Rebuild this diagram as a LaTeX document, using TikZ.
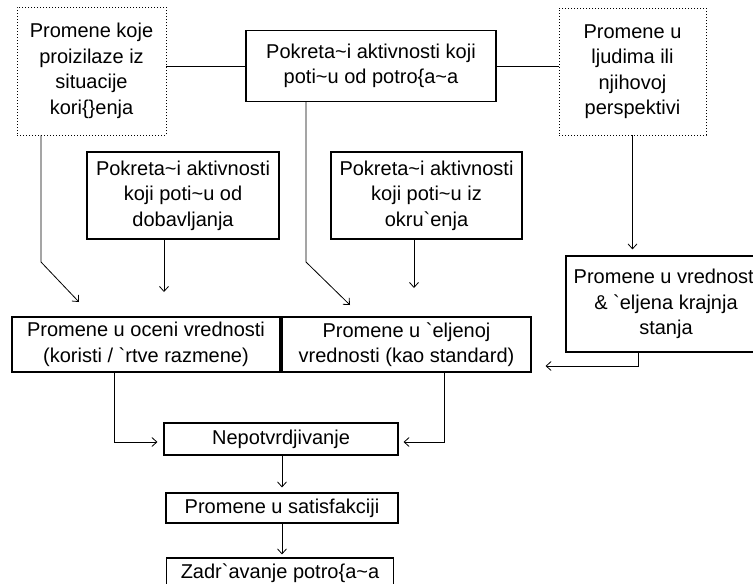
\documentclass[tikz,border=0pt]{standalone}
\usepackage{fontspec}
\setmainfont{Liberation Sans}
\usetikzlibrary{arrows.meta}
\newcommand{\coude}[3]{\draw[fleche] (#1) -- (#2) -- (#3)}
\newcommand{\ti}[0]{\textasciitilde}
\newcommand{\gr}[0]{\textasciigrave}

\begin{document}
\begin{tikzpicture}[x=1pt, y=-1pt,
	fin/.style = {line width=0.8pt},
	boite/.style = {draw, line width=1.1pt, align=center, inner sep=0pt,
		font=\fontsize{20}{25.5}\selectfont},
	pointille/.style = {boite, line width=0.9pt, dash pattern=on 0.9pt off 2.1pt},
	fleche/.style = {draw, fin, -{Straight Barb[length=5pt,width=9pt]}}]
	\useasboundingbox (0,0) rectangle (753,584);
	\clip (0,0) rectangle (753,584);
%Top row
	\node[pointille, minimum width=149pt, minimum height=128pt] (koris) at (91.5,71)
		{Promene koje\\proizilaze iz\\situacije\\kori\{\}enja};
	\node[boite, minimum width=250pt, minimum height=71pt] (potr) at (371,66)
		{Pokreta\ti i aktivnosti koji\\poti\ti u od potro\{a\ti a};
	\node[pointille, minimum width=147pt, minimum height=127pt] (ljudi) at (632.5,71.5)
		{Promene u\\ljudima ili\\njihovoj\\perspektivi};
%Second row
	\node[boite, minimum width=192pt, minimum height=87pt] (dob) at (183,195.5)
		{Pokreta\ti i aktivnosti\\koji poti\ti u od\\dobavljanja};
	\node[boite, minimum width=191pt, minimum height=87pt] (okr) at (426.5,195.5)
		{Pokreta\ti i aktivnosti\\koji poti\ti u iz\\okru\gr enja};
	\node[boite, minimum width=200pt, minimum height=96pt] (vredn) at (666,304)
		{Promene u vrednosti\\\& \gr eljena krajnja\\stanja};
%Third row
	\node[boite, minimum width=268pt, minimum height=55pt] (ocena) at (146,344.5)
		{Promene u oceni vrednosti\\(koristi / \gr rtve razmene)};
	\node[boite, minimum width=249pt, minimum height=55pt] (zelj) at (406.5,344.5)
		{Promene u \gr eljenoj\\vrednosti (kao standard)};
%Bottom column
	\node[boite, minimum width=234pt, minimum height=32pt] (nepot) at (281,439)
		{Nepotvrdjivanje};
	\node[boite, minimum width=232pt, minimum height=30pt] (satisf) at (282,508)
		{Promene u satisfakciji};
	\node[boite, minimum width=227pt, minimum height=30pt] (zadr) at (280,573)
		{Zadr\gr avanje potro\{a\ti a};
%Links between the top boxes
	\draw[fin] (potr.west) -- (potr.west -| koris.east);
	\draw[fin] (potr.east) -- (potr.east -| ljudi.west);
%Bends
	\coordinate (k1) at (41,262);
	\coordinate (k2) at (79,302);
	\coordinate (p1) at (306,262);
	\coordinate (p2) at (350,305);
	\coordinate (d1) at (164,292);
	\coordinate (o1) at (414,288);
	\coordinate (v1) at (638,366);
	\coordinate (n1) at (114,442);
	\coordinate (n2) at (444,442);
%Arrows
	\coude{koris.south -| k1}{k1}{k2};
	\coude{potr.south -| p1}{p1}{p2};
	\draw[fleche, shorten >=6pt] (ljudi.south) -- (ljudi.south |- vredn.north);
	\draw[fleche] (dob.south -| d1) -- (d1);
	\draw[fleche] (okr.south -| o1) -- (o1);
	\coude{vredn.south -| v1}{v1}{[xshift=14pt]zelj.east |- v1};
	\coude{ocena.south -| n1}{n1}{[xshift=-6pt]nepot.west |- n1};
	\coude{zelj.south -| n2}{n2}{[xshift=5pt]nepot.east |- n2};
	\draw[fleche, shorten >=5pt] (satisf.north |- nepot.south) -- (satisf.north);
	\draw[fleche, shorten >=3pt] (satisf.south) -- (satisf.south |- zadr.north);
\end{tikzpicture}
\end{document}
